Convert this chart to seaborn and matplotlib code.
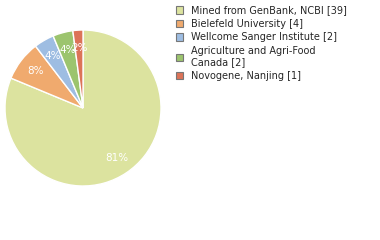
import matplotlib
matplotlib.use("Agg")
import matplotlib.pyplot as plt
import seaborn as sns
from matplotlib.patches import Patch

sns.set_style("white")
plt.rcParams['font.family'] = ['DejaVu Sans']

labels = ["Mined from GenBank, NCBI [39]", "Bielefeld University [4]",
          "Wellcome Sanger Institute [2]", "Agriculture and Agri-Food\nCanada [2]",
          "Novogene, Nanjing [1]"]
values = [39, 4, 2, 2, 1]
colors = ["#dce39f", "#f0aa6e", "#9ebde2", "#9cc46e", "#dc7358"]

fig = plt.figure(figsize=(3.8, 2.4), dpi=100)
ax = fig.add_axes([0.0132, 0.225, 0.4105, 0.65])
wedges, texts, autotexts = ax.pie(values, colors=colors, startangle=90, counterclock=False,
                                  autopct=lambda p: "%d%%" % int(p), pctdistance=0.77,
                                  textprops=dict(color="white", fontsize=7.5))
ax.set_xlim(-1, 1)
ax.set_ylim(-1, 1)
ax.set_aspect("equal")
ax.axis("off")

handles = [Patch(facecolor=c, edgecolor="#777777", linewidth=0.8) for c in colors]
fig.legend(handles, labels, loc="upper left", bbox_to_anchor=(0.445, 1.006),
           frameon=False, fontsize=7, handlelength=0.75, handleheight=0.75,
           handletextpad=0.85, labelspacing=0.36, borderaxespad=0.3)

fig.savefig("out.png", dpi=100)
